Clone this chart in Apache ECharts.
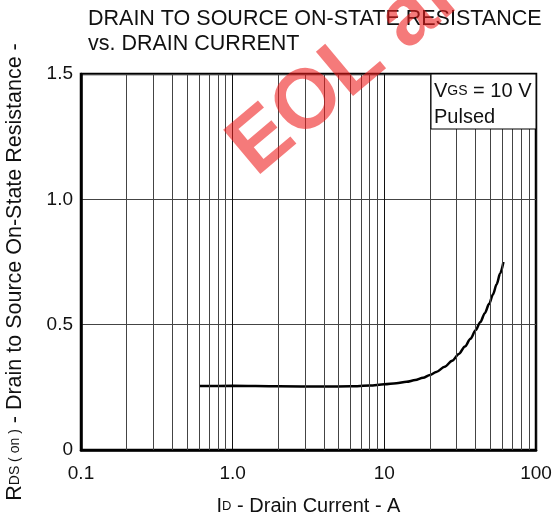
<!DOCTYPE html>
<html>
<head>
<meta charset="utf-8">
<script src="https://cdn.jsdelivr.net/npm/echarts@6/dist/echarts.min.js"></script>
<style>
  html, body { margin: 0; padding: 0; background: #fff; }
  #chart { width: 553px; height: 518px; }
</style>
</head>
<body>
<div id="chart"></div>
<script>
// drain current (A) and on-state resistance (ohm)
var currentA = [0.6, 1, 2, 4, 6, 8, 10, 12, 14, 16, 18, 20, 22, 25, 28, 31, 34, 37, 40, 43, 46, 49, 52, 55, 58, 61];
var rdsOn = [0.255, 0.256, 0.254, 0.253, 0.254, 0.257, 0.262, 0.266, 0.272, 0.279, 0.288, 0.299,
             0.311, 0.332, 0.356, 0.383, 0.413, 0.444, 0.478, 0.511, 0.546, 0.582, 0.620, 0.661, 0.704, 0.750];

// log grid lines between the decades
var minorX = [0.2, 0.3, 0.4, 0.5, 0.6, 0.7, 0.8, 0.9,
              2, 3, 4, 5, 6, 7, 8, 9,
              20, 30, 40, 50, 60, 70, 80, 90];
var xTickLabels = {0.1: '0.1', 1: '1.0', 10: '10', 100: '100'};
var yTickLabels = {0: '0', 0.5: '0.5', 1: '1.0', 1.5: '1.5'};

var myChart = echarts.init(document.getElementById('chart'));
var font = '"Liberation Sans", Arial, sans-serif';

var option = {
    animation: false,
    title: {
        text: 'DRAIN TO SOURCE ON-STATE RESISTANCE\nvs. DRAIN CURRENT',
        left: 83,
        top: 2,
        textStyle: {
            fontFamily: font,
            fontSize: 21.5,
            fontWeight: 'normal',
            color: '#111',
            lineHeight: 25
        }
    },
    grid: {
        left: 81,
        right: 17,
        top: 74,
        bottom: 68,
        outerBoundsMode: 'none',
        containLabel: false,
        show: true,
        borderColor: '#000',
        borderWidth: 2.5,
        backgroundColor: 'transparent'
    },
    xAxis: {
        type: 'log',
        logBase: 10,
        min: 0.1,
        max: 100,
        name: 'I{s|D} - Drain Current - A',
        nameLocation: 'middle',
        nameGap: 46,
        nameTextStyle: {
            fontFamily: font,
            fontSize: 20,
            color: '#111',
            rich: {
                s: { fontFamily: font, fontSize: 13, color: '#111' }
            }
        },
        axisLine: { lineStyle: { color: '#000', width: 2.5 } },
        axisTick: { show: false },
        axisLabel: {
            margin: 14,
            fontFamily: font,
            fontSize: 19,
            color: '#111',
            formatter: function (v) {
                var k = Math.round(v * 10) / 10;
                return xTickLabels[k] !== undefined ? xTickLabels[k] : '';
            }
        },
        splitLine: { show: true, lineStyle: { color: '#111', width: 1 } }
    },
    yAxis: {
        type: 'value',
        min: 0,
        max: 1.5,
        interval: 0.5,
        name: 'R{s|DS ( on )} - Drain to Source On-State Resistance -',
        nameLocation: 'middle',
        nameGap: 55,
        nameRotate: 90,
        nameTextStyle: {
            fontFamily: font,
            fontSize: 21.5,
            color: '#111',
            padding: [0, 20, 0, 0],
            rich: {
                s: { fontFamily: font, fontSize: 14, color: '#111' }
            }
        },
        axisLine: { lineStyle: { color: '#000', width: 2.5 } },
        axisTick: { show: false },
        axisLabel: {
            margin: 8,
            fontFamily: font,
            fontSize: 19,
            color: '#111',
            formatter: function (v) {
                return yTickLabels[v] !== undefined ? yTickLabels[v] : '';
            }
        },
        splitLine: { show: true, lineStyle: { color: '#444', width: 1 } }
    },
    series: [{
        name: 'RDS(on)',
        type: 'line',
        smooth: 0.3,
        smoothMonotone: 'x',
        showSymbol: false,
        lineStyle: { color: '#000', width: 2.5 },
        data: currentA.map(function (x, i) { return [x, rdsOn[i]]; }),
        markLine: {
            silent: true,
            symbol: ['none', 'none'],
            label: { show: false },
            lineStyle: { color: '#444', width: 1, type: 'solid' },
            data: minorX.map(function (x) { return { xAxis: x }; })
        },
        z: 3
    }],
    graphic: [
        // condition box in the top right corner
        {
            type: 'rect',
            shape: { x: 431, y: 74, width: 105, height: 55 },
            style: { fill: '#fff', stroke: '#000', lineWidth: 1 },
            z: 10
        },
        {
            type: 'text',
            left: 434,
            top: 78,
            style: {
                text: 'V{s|GS} = 10 V\nPulsed',
                font: '20px ' + font,
                fill: '#111',
                lineHeight: 26,
                rich: {
                    s: { font: '14px ' + font, fill: '#111' }
                }
            },
            z: 11
        },
        // red watermark
        {
            type: 'text',
            x: 268,
            y: 192,
            rotation: 40 * Math.PI / 180,
            style: {
                text: 'EOL announced',
                font: 'bold 84px ' + font,
                fill: 'rgba(238, 25, 25, 0.58)',
                textVerticalAlign: 'bottom'
            },
            z: 20
        }
    ]
};

myChart.setOption(option);
</script>
</body>
</html>
